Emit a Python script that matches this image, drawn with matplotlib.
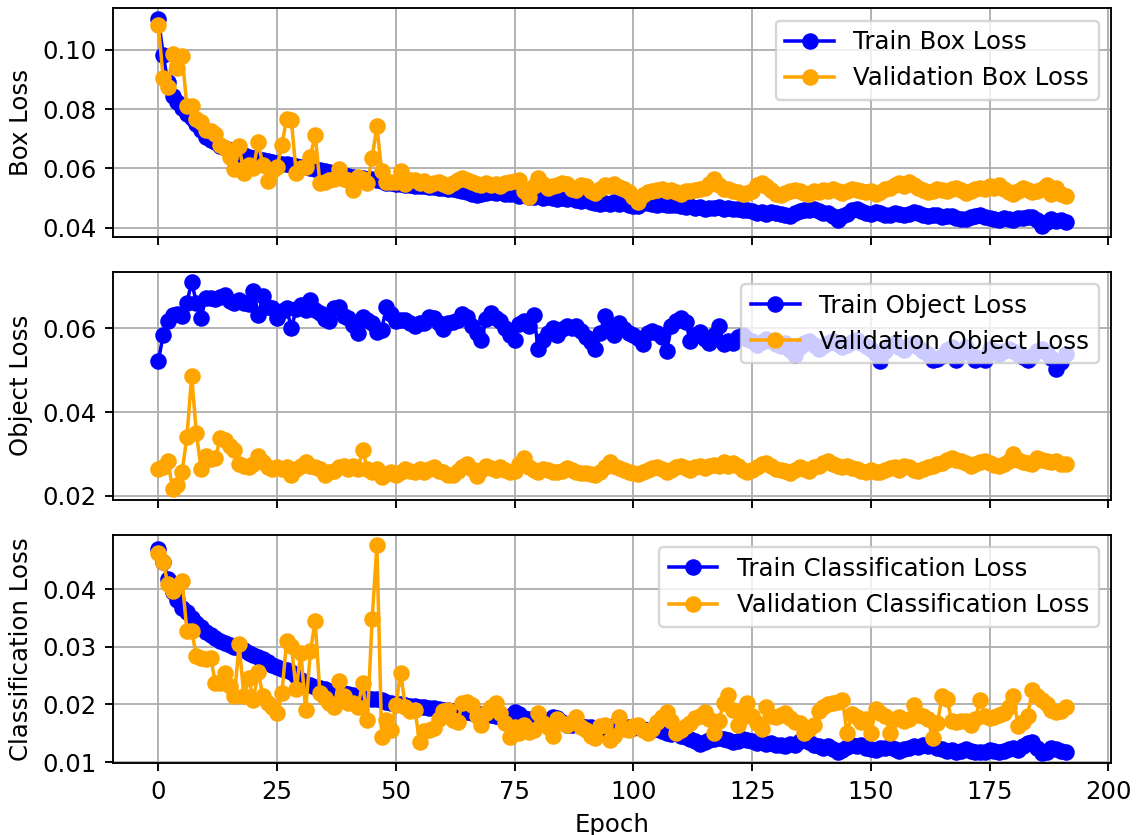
import numpy as np
import matplotlib
matplotlib.use("Agg")
import matplotlib.pyplot as plt
from matplotlib.ticker import MultipleLocator

# values, one per epoch (0..191)
box_train = [0.1105, 0.0983, 0.0890, 0.0843, 0.0825, 0.0805, 0.0785, 0.0770, 0.0750, 0.0730,
             0.0705, 0.0695, 0.0688, 0.0676, 0.0668, 0.0662, 0.0655, 0.0650, 0.0645, 0.0640,
             0.0636, 0.0632, 0.0628, 0.0624, 0.0620, 0.0619, 0.0616, 0.0615, 0.0612, 0.0609,
             0.0606, 0.0604, 0.0600, 0.0598, 0.0594, 0.0592, 0.0588, 0.0585, 0.0580, 0.0576,
             0.0574, 0.0571, 0.0569, 0.0567, 0.0565, 0.0563, 0.0560, 0.0557, 0.0552, 0.0549,
             0.0547, 0.0546, 0.0545, 0.0543, 0.0542, 0.0541, 0.0540, 0.0538, 0.0537, 0.0535,
             0.0534, 0.0532, 0.0530, 0.0528, 0.0524, 0.0519, 0.0512, 0.0510, 0.0513, 0.0516,
             0.0519, 0.0518, 0.0521, 0.0515, 0.0512, 0.0513, 0.0506, 0.0509, 0.0502, 0.0505,
             0.0507, 0.0501, 0.0503, 0.0500, 0.0498, 0.0501, 0.0497, 0.0499, 0.0494, 0.0490,
             0.0492, 0.0486, 0.0482, 0.0479, 0.0484, 0.0481, 0.0486, 0.0480, 0.0483, 0.0477,
             0.0474, 0.0472, 0.0482, 0.0484, 0.0479, 0.0477, 0.0481, 0.0478, 0.0475, 0.0476,
             0.0472, 0.0469, 0.0474, 0.0466, 0.0468, 0.0464, 0.0467, 0.0465, 0.0470, 0.0463,
             0.0466, 0.0462, 0.0464, 0.0458, 0.0461, 0.0455, 0.0448, 0.0452, 0.0447, 0.0454,
             0.0450, 0.0445, 0.0442, 0.0440, 0.0448, 0.0455, 0.0460, 0.0458, 0.0462, 0.0455,
             0.0451, 0.0448, 0.0440, 0.0425, 0.0438, 0.0446, 0.0460, 0.0464, 0.0456, 0.0450,
             0.0447, 0.0452, 0.0449, 0.0444, 0.0442, 0.0450, 0.0446, 0.0443, 0.0445, 0.0453,
             0.0448, 0.0444, 0.0438, 0.0441, 0.0443, 0.0436, 0.0440, 0.0438, 0.0434, 0.0430,
             0.0428, 0.0436, 0.0440, 0.0443, 0.0437, 0.0434, 0.0430, 0.0427, 0.0432, 0.0429,
             0.0426, 0.0431, 0.0433, 0.0437, 0.0435, 0.0426, 0.0405, 0.0418, 0.0428, 0.0424,
             0.0427, 0.0420]

box_val = [0.1085, 0.0905, 0.0875, 0.0985, 0.0940, 0.0978, 0.0810, 0.0812, 0.0765, 0.0755,
           0.0730, 0.0725, 0.0715, 0.0680, 0.0668, 0.0640, 0.0598, 0.0675, 0.0585, 0.0610,
           0.0600, 0.0690, 0.0610, 0.0558, 0.0590, 0.0605, 0.0679, 0.0768, 0.0762, 0.0585,
           0.0600, 0.0605, 0.0640, 0.0714, 0.0550, 0.0555, 0.0560, 0.0565, 0.0597, 0.0565,
           0.0560, 0.0528, 0.0570, 0.0565, 0.0550, 0.0636, 0.0742, 0.0590, 0.0553, 0.0555,
           0.0553, 0.0590, 0.0548, 0.0560, 0.0562, 0.0552, 0.0556, 0.0545, 0.0550, 0.0555,
           0.0548, 0.0540, 0.0552, 0.0560, 0.0568, 0.0560, 0.0555, 0.0548, 0.0545, 0.0552,
           0.0545, 0.0548, 0.0540, 0.0550, 0.0555, 0.0558, 0.0562, 0.0525, 0.0505, 0.0540,
           0.0566, 0.0548, 0.0535, 0.0540, 0.0545, 0.0550, 0.0548, 0.0530, 0.0528, 0.0545,
           0.0540, 0.0525, 0.0518, 0.0532, 0.0545, 0.0540, 0.0548, 0.0538, 0.0530, 0.0520,
           0.0505, 0.0485, 0.0510, 0.0520, 0.0525, 0.0528, 0.0530, 0.0525, 0.0528, 0.0520,
           0.0515, 0.0522, 0.0525, 0.0528, 0.0530, 0.0535, 0.0548, 0.0565, 0.0545, 0.0532,
           0.0530, 0.0525, 0.0520, 0.0515, 0.0518, 0.0525, 0.0545, 0.0550, 0.0540, 0.0528,
           0.0515, 0.0510, 0.0518, 0.0525, 0.0528, 0.0522, 0.0518, 0.0515, 0.0522, 0.0520,
           0.0528, 0.0525, 0.0530, 0.0522, 0.0518, 0.0525, 0.0530, 0.0528, 0.0524, 0.0520,
           0.0525, 0.0512, 0.0520, 0.0530, 0.0535, 0.0545, 0.0550, 0.0540, 0.0555, 0.0545,
           0.0535, 0.0528, 0.0520, 0.0525, 0.0532, 0.0528, 0.0522, 0.0530, 0.0535, 0.0528,
           0.0518, 0.0522, 0.0530, 0.0535, 0.0532, 0.0540, 0.0535, 0.0545, 0.0530, 0.0520,
           0.0515, 0.0525, 0.0535, 0.0528, 0.0520, 0.0525, 0.0530, 0.0545, 0.0515, 0.0535,
           0.0512, 0.0508]

obj_train = [0.0523, 0.0584, 0.0617, 0.0633, 0.0634, 0.0629, 0.0661, 0.0711, 0.0662, 0.0626,
             0.0673, 0.0672, 0.0670, 0.0676, 0.0679, 0.0665, 0.0660, 0.0668, 0.0662, 0.0658,
             0.0689, 0.0632, 0.0677, 0.0652, 0.0649, 0.0626, 0.0641, 0.0649, 0.0600, 0.0646,
             0.0655, 0.0645, 0.0668, 0.0645, 0.0636, 0.0622, 0.0618, 0.0649, 0.0652, 0.0630,
             0.0624, 0.0609, 0.0590, 0.0628, 0.0621, 0.0612, 0.0592, 0.0596, 0.0652, 0.0634,
             0.0619, 0.0620, 0.0621, 0.0613, 0.0607, 0.0612, 0.0614, 0.0627, 0.0626, 0.0613,
             0.0598, 0.0612, 0.0615, 0.0621, 0.0634, 0.0628, 0.0605, 0.0590, 0.0572, 0.0622,
             0.0638, 0.0625, 0.0618, 0.0602, 0.0585, 0.0572, 0.0610, 0.0618, 0.0605, 0.0633,
             0.0550, 0.0572, 0.0590, 0.0600, 0.0585, 0.0598, 0.0605, 0.0600, 0.0605, 0.0595,
             0.0580, 0.0568, 0.0552, 0.0590, 0.0630, 0.0605, 0.0585, 0.0612, 0.0598, 0.0590,
             0.0585, 0.0578, 0.0562, 0.0590, 0.0595, 0.0588, 0.0580, 0.0547, 0.0605, 0.0618,
             0.0626, 0.0615, 0.0570, 0.0585, 0.0592, 0.0575, 0.0565, 0.0585, 0.0605, 0.0562,
             0.0570, 0.0565, 0.0580, 0.0585, 0.0575, 0.0570, 0.0560, 0.0568, 0.0575, 0.0570,
             0.0562, 0.0558, 0.0565, 0.0548, 0.0536, 0.0555, 0.0565, 0.0570, 0.0560, 0.0552,
             0.0558, 0.0565, 0.0570, 0.0562, 0.0555, 0.0560, 0.0568, 0.0572, 0.0565, 0.0558,
             0.0550, 0.0540, 0.0522, 0.0545, 0.0560, 0.0565, 0.0555, 0.0548, 0.0560, 0.0565,
             0.0555, 0.0545, 0.0540, 0.0525, 0.0528, 0.0535, 0.0548, 0.0555, 0.0525, 0.0545,
             0.0555, 0.0540, 0.0525, 0.0530, 0.0525, 0.0550, 0.0545, 0.0538, 0.0545, 0.0552,
             0.0545, 0.0538, 0.0532, 0.0525, 0.0535, 0.0545, 0.0550, 0.0542, 0.0530, 0.0502,
             0.0520, 0.0540]

obj_val = [0.0264, 0.0268, 0.0284, 0.0215, 0.0225, 0.0258, 0.0341, 0.0486, 0.0349, 0.0264,
           0.0295, 0.0287, 0.0290, 0.0337, 0.0334, 0.0318, 0.0310, 0.0275, 0.0272, 0.0268,
           0.0275, 0.0295, 0.0280, 0.0268, 0.0264, 0.0268, 0.0264, 0.0268, 0.0249, 0.0264,
           0.0272, 0.0280, 0.0272, 0.0268, 0.0264, 0.0249, 0.0256, 0.0260, 0.0268, 0.0272,
           0.0264, 0.0272, 0.0264, 0.0310, 0.0264, 0.0256, 0.0264, 0.0245, 0.0252, 0.0256,
           0.0249, 0.0256, 0.0264, 0.0260, 0.0256, 0.0264, 0.0256, 0.0264, 0.0268, 0.0260,
           0.0256, 0.0249, 0.0249, 0.0260, 0.0268, 0.0275, 0.0264, 0.0248, 0.0262, 0.0270,
           0.0266, 0.0262, 0.0268, 0.0262, 0.0258, 0.0260, 0.0275, 0.0291, 0.0268, 0.0262,
           0.0258, 0.0264, 0.0262, 0.0258, 0.0256, 0.0260, 0.0266, 0.0262, 0.0258, 0.0255,
           0.0254, 0.0252, 0.0250, 0.0258, 0.0268, 0.0280, 0.0270, 0.0266, 0.0262, 0.0258,
           0.0255, 0.0252, 0.0258, 0.0262, 0.0266, 0.0268, 0.0264, 0.0258, 0.0262, 0.0268,
           0.0270, 0.0266, 0.0262, 0.0268, 0.0270, 0.0266, 0.0272, 0.0274, 0.0270, 0.0280,
           0.0272, 0.0278, 0.0270, 0.0262, 0.0258, 0.0262, 0.0268, 0.0275, 0.0278, 0.0270,
           0.0265, 0.0262, 0.0260, 0.0255, 0.0262, 0.0268, 0.0264, 0.0260, 0.0268, 0.0272,
           0.0278, 0.0282, 0.0275, 0.0270, 0.0268, 0.0272, 0.0266, 0.0264, 0.0260, 0.0258,
           0.0262, 0.0258, 0.0256, 0.0262, 0.0266, 0.0268, 0.0262, 0.0272, 0.0268, 0.0262,
           0.0260, 0.0265, 0.0268, 0.0270, 0.0275, 0.0278, 0.0285, 0.0290, 0.0286, 0.0282,
           0.0278, 0.0272, 0.0275, 0.0280, 0.0284, 0.0278, 0.0274, 0.0270, 0.0276, 0.0282,
           0.0300, 0.0286, 0.0280, 0.0278, 0.0275, 0.0290, 0.0286, 0.0283, 0.0280, 0.0282,
           0.0276, 0.0276]

cls_train = [0.0470, 0.0447, 0.0418, 0.0395, 0.0382, 0.0368, 0.0360, 0.0350, 0.0342, 0.0334,
             0.0326, 0.0320, 0.0315, 0.0310, 0.0307, 0.0303, 0.0300, 0.0298, 0.0294, 0.0290,
             0.0286, 0.0282, 0.0278, 0.0273, 0.0268, 0.0265, 0.0262, 0.0259, 0.0256, 0.0250,
             0.0242, 0.0236, 0.0233, 0.0230, 0.0228, 0.0226, 0.0224, 0.0222, 0.0221, 0.0220,
             0.0218, 0.0216, 0.0215, 0.0213, 0.0211, 0.0210, 0.0209, 0.0207, 0.0205, 0.0203,
             0.0201, 0.0200, 0.0199, 0.0198, 0.0197, 0.0196, 0.0195, 0.0194, 0.0193, 0.0192,
             0.0191, 0.0190, 0.0189, 0.0188, 0.0187, 0.0186, 0.0185, 0.0184, 0.0183, 0.0182,
             0.0181, 0.0180, 0.0179, 0.0178, 0.0180, 0.0186, 0.0184, 0.0176, 0.0175, 0.0172,
             0.0170, 0.0173, 0.0169, 0.0178, 0.0176, 0.0170, 0.0165, 0.0164, 0.0166, 0.0163,
             0.0161, 0.0160, 0.0158, 0.0155, 0.0160, 0.0158, 0.0162, 0.0157, 0.0160, 0.0161,
             0.0159, 0.0160, 0.0158, 0.0156, 0.0155, 0.0157, 0.0153, 0.0150, 0.0148, 0.0150,
             0.0146, 0.0143, 0.0140, 0.0136, 0.0131, 0.0135, 0.0138, 0.0140, 0.0142, 0.0140,
             0.0138, 0.0135, 0.0136, 0.0140, 0.0138, 0.0137, 0.0133, 0.0134, 0.0131, 0.0133,
             0.0130, 0.0129, 0.0128, 0.0131, 0.0130, 0.0136, 0.0138, 0.0134, 0.0130, 0.0127,
             0.0125, 0.0128, 0.0122, 0.0118, 0.0121, 0.0126, 0.0130, 0.0127, 0.0129, 0.0125,
             0.0123, 0.0121, 0.0125, 0.0124, 0.0126, 0.0122, 0.0120, 0.0123, 0.0125, 0.0128,
             0.0126, 0.0130, 0.0128, 0.0131, 0.0125, 0.0122, 0.0119, 0.0121, 0.0118, 0.0120,
             0.0122, 0.0119, 0.0117, 0.0118, 0.0118, 0.0121, 0.0120, 0.0118, 0.0119, 0.0123,
             0.0125, 0.0121, 0.0128, 0.0133, 0.0134, 0.0125, 0.0116, 0.0117, 0.0125, 0.0122,
             0.0119, 0.0117]

cls_val = [0.0463, 0.0447, 0.0409, 0.0397, 0.0406, 0.0415, 0.0328, 0.0328, 0.0284, 0.0281,
           0.0278, 0.0281, 0.0237, 0.0237, 0.0254, 0.0232, 0.0214, 0.0304, 0.0214, 0.0245,
           0.0208, 0.0257, 0.0214, 0.0202, 0.0196, 0.0185, 0.0220, 0.0310, 0.0301, 0.0226,
           0.0290, 0.0190, 0.0292, 0.0345, 0.0220, 0.0212, 0.0202, 0.0196, 0.0240, 0.0214,
           0.0202, 0.0202, 0.0196, 0.0237, 0.0173, 0.0348, 0.0476, 0.0144, 0.0173, 0.0156,
           0.0199, 0.0255, 0.0196, 0.0188, 0.0191, 0.0135, 0.0153, 0.0156, 0.0159, 0.0174,
           0.0188, 0.0191, 0.0173, 0.0170, 0.0202, 0.0205, 0.0199, 0.0180, 0.0165, 0.0185,
           0.0195, 0.0203, 0.0185, 0.0168, 0.0144, 0.0160, 0.0150, 0.0165, 0.0152, 0.0155,
           0.0185, 0.0168, 0.0160, 0.0145, 0.0175, 0.0168, 0.0165, 0.0170, 0.0178, 0.0160,
           0.0155, 0.0145, 0.0141, 0.0162, 0.0165, 0.0138, 0.0145, 0.0179, 0.0158, 0.0155,
           0.0162, 0.0165, 0.0155, 0.0150, 0.0158, 0.0170, 0.0178, 0.0186, 0.0172, 0.0150,
           0.0155, 0.0162, 0.0168, 0.0176, 0.0180, 0.0186, 0.0175, 0.0150, 0.0172, 0.0202,
           0.0217, 0.0190, 0.0165, 0.0178, 0.0202, 0.0180, 0.0168, 0.0158, 0.0196, 0.0180,
           0.0178, 0.0182, 0.0185, 0.0176, 0.0170, 0.0167, 0.0150, 0.0158, 0.0165, 0.0188,
           0.0195, 0.0200, 0.0202, 0.0205, 0.0208, 0.0150, 0.0183, 0.0178, 0.0170, 0.0175,
           0.0150, 0.0192, 0.0185, 0.0180, 0.0150, 0.0175, 0.0178, 0.0172, 0.0175, 0.0199,
           0.0182, 0.0180, 0.0175, 0.0141, 0.0168, 0.0214, 0.0210, 0.0172, 0.0170, 0.0172,
           0.0172, 0.0165, 0.0175, 0.0208, 0.0180, 0.0176, 0.0178, 0.0182, 0.0185, 0.0195,
           0.0214, 0.0162, 0.0170, 0.0180, 0.0225, 0.0215, 0.0208, 0.0200, 0.0190, 0.0186,
           0.0188, 0.0195]

epochs = np.arange(len(box_train))

panels = [
    (box_train, box_val, "Box Loss", 0.02),
    (obj_train, obj_val, "Object Loss", 0.02),
    (cls_train, cls_val, "Classification Loss", 0.01),
]

plt.rcParams["font.size"] = 10.3

fig, axes = plt.subplots(3, 1, sharex=True, figsize=(1136/170, 835/170), dpi=170)
fig.subplots_adjust(left=0.0995, right=0.978, top=0.990, bottom=0.086, hspace=0.154)

for ax, (tr, va, name, step) in zip(axes, panels):
    ax.plot(epochs, tr, marker="o", color="blue", label=f"Train {name}")
    ax.plot(epochs, va, marker="o", color="orange", label=f"Validation {name}")
    ax.set_ylabel(name)
    ax.yaxis.set_major_locator(MultipleLocator(step))
    ax.grid(True)
    ax.legend(loc="upper right")

axes[-1].set_xlabel("Epoch")

plt.savefig("out.png", dpi=170)
plt.close()
